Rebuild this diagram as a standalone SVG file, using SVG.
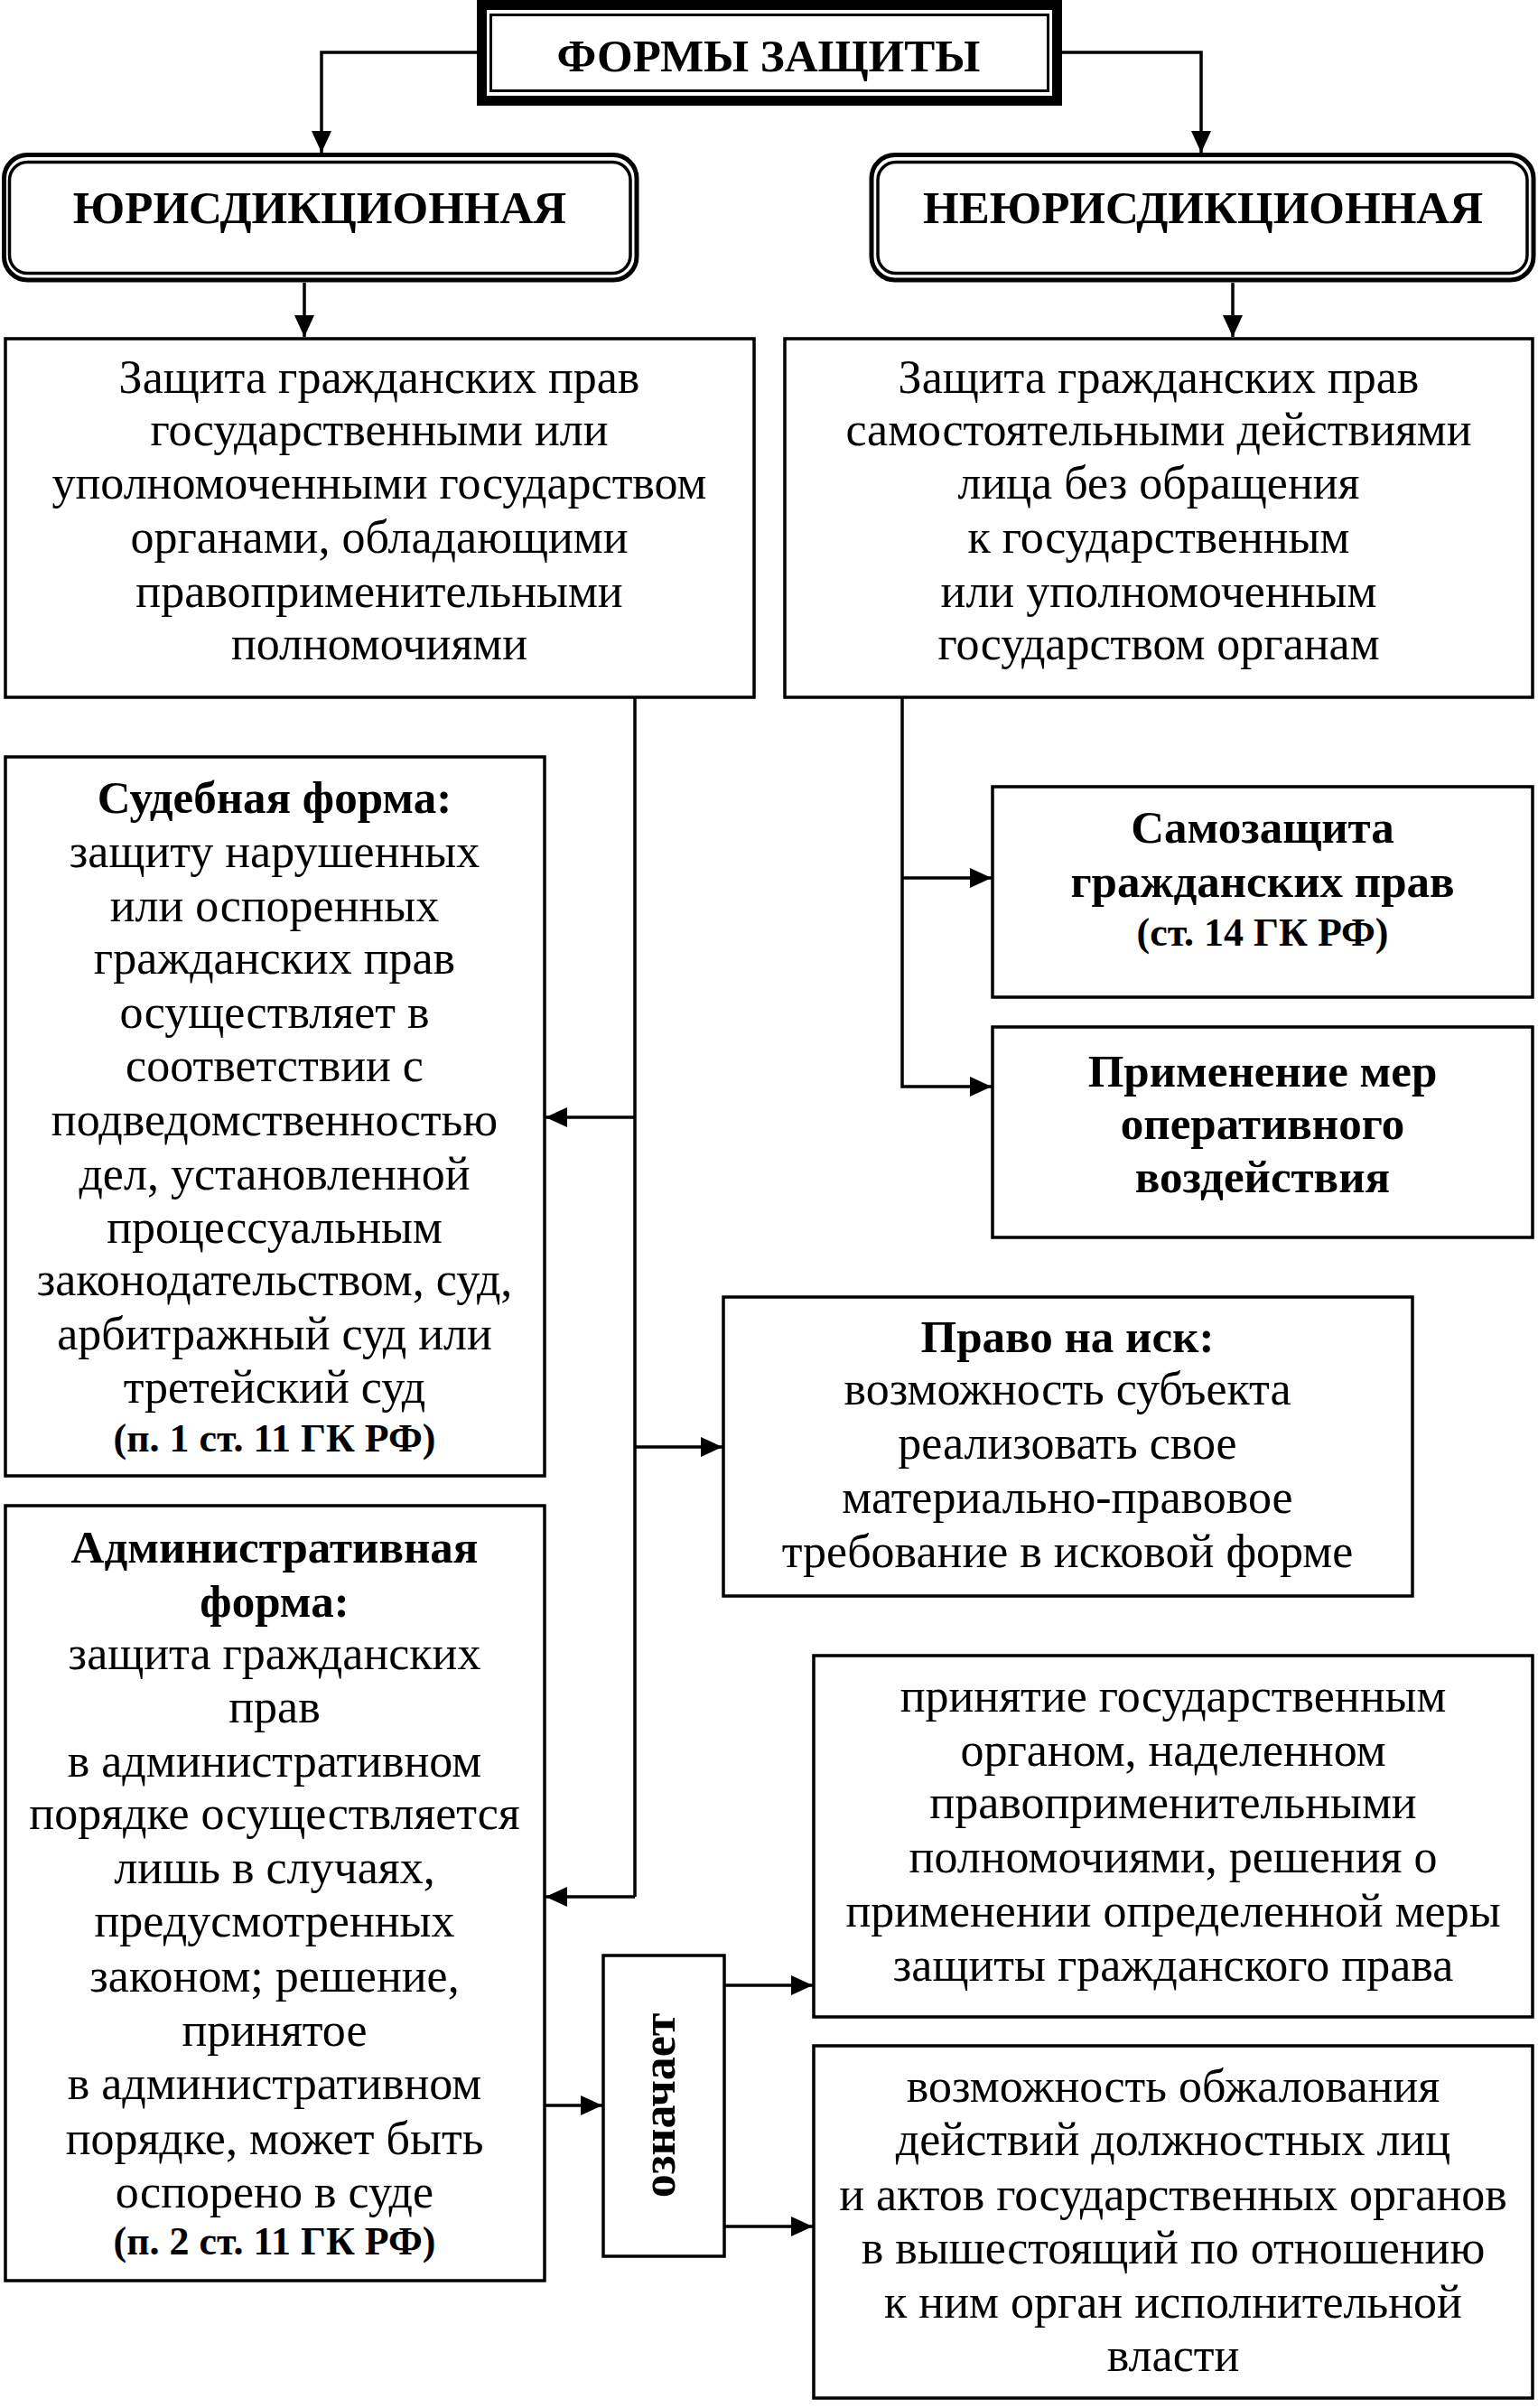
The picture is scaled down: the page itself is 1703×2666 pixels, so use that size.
<svg xmlns="http://www.w3.org/2000/svg" width="1703" height="2666" viewBox="0 0 1703 2666">
<defs>
<style>
.box{fill:#fff;stroke:#000;stroke-width:3.5}
.t{font-family:"Liberation Serif","Times New Roman",serif;font-size:52px;fill:#000;text-anchor:middle}
.b{font-weight:bold;font-size:51px}
.s{font-weight:bold;font-size:44px}
.h{font-weight:bold;font-size:51px}
.ln{fill:none;stroke:#000;stroke-width:3.5}
</style>
<marker id="ah" markerUnits="userSpaceOnUse" markerWidth="26" markerHeight="24" refX="24" refY="12" orient="auto">
<path d="M0,1 L24,12 L0,23 Z" fill="#000"/>
</marker>
</defs>
<rect width="1703" height="2666" fill="#fff"/>

<g id="connectors">
<path class="ln" d="M528,58 H356 V169" marker-end="url(#ah)"/>
<path class="ln" d="M1176,58 H1330 V169" marker-end="url(#ah)"/>
<path class="ln" d="M337,313 V373" marker-end="url(#ah)"/>
<path class="ln" d="M1365,313 V373" marker-end="url(#ah)"/>
<path class="ln" d="M703,773 V2100"/>
<path class="ln" d="M703,1237 H604" marker-end="url(#ah)"/>
<path class="ln" d="M703,1602 H800" marker-end="url(#ah)"/>
<path class="ln" d="M703,2100 H604" marker-end="url(#ah)"/>
<path class="ln" d="M999,773 V1203 H1098" marker-end="url(#ah)"/>
<path class="ln" d="M999,972 H1098" marker-end="url(#ah)"/>
<path class="ln" d="M603,2331 H667" marker-end="url(#ah)"/>
<path class="ln" d="M802,2198 H900" marker-end="url(#ah)"/>
<path class="ln" d="M802,2465 H900" marker-end="url(#ah)"/>
</g>

<g id="forms">
<rect x="533.5" y="5.5" width="637" height="106" fill="#fff" stroke="#000" stroke-width="11"/>
<rect x="543.5" y="16.5" width="617" height="84" fill="none" stroke="#000" stroke-width="3"/>
<text class="t h" x="851" y="79">ФОРМЫ ЗАЩИТЫ</text>
</g>

<g id="jur">
<rect x="4.5" y="171.5" width="700.5" height="138.5" rx="26" fill="#fff" stroke="#000" stroke-width="5"/>
<rect x="10.5" y="179.5" width="687.5" height="123" rx="20" fill="none" stroke="#000" stroke-width="3.5"/>
<text class="t h" x="354" y="247">ЮРИСДИКЦИОННАЯ</text>
</g>

<g id="nonjur">
<rect x="965" y="171.5" width="733" height="138.5" rx="26" fill="#fff" stroke="#000" stroke-width="5"/>
<rect x="972" y="179.5" width="719" height="123" rx="20" fill="none" stroke="#000" stroke-width="3.5"/>
<text class="t h" x="1332" y="247">НЕЮРИСДИКЦИОННАЯ</text>
</g>

<g id="jur-def">
<rect class="box" x="6" y="375" width="829" height="397"/>
<text class="t" x="420" y="435">Защита гражданских прав</text>
<text class="t" x="420" y="493">государственными или</text>
<text class="t" x="420" y="552">уполномоченными государством</text>
<text class="t" x="420" y="612">органами, обладающими</text>
<text class="t" x="420" y="672">правоприменительными</text>
<text class="t" x="420" y="730">полномочиями</text>
</g>

<g id="nonjur-def">
<rect class="box" x="869" y="375" width="828" height="397"/>
<text class="t" x="1283" y="435">Защита гражданских прав</text>
<text class="t" x="1283" y="493">самостоятельными действиями</text>
<text class="t" x="1283" y="552">лица без обращения</text>
<text class="t" x="1283" y="612">к государственным</text>
<text class="t" x="1283" y="672">или уполномоченным</text>
<text class="t" x="1283" y="730">государством органам</text>
</g>

<g id="court">
<rect class="box" x="6" y="838" width="597" height="796"/>
<text class="t b" x="304" y="900">Судебная форма:</text>
<text class="t" x="304" y="960">защиту нарушенных</text>
<text class="t" x="304" y="1020">или оспоренных</text>
<text class="t" x="304" y="1078">гражданских прав</text>
<text class="t" x="304" y="1138">осуществляет в</text>
<text class="t" x="304" y="1197">соответствии с</text>
<text class="t" x="304" y="1257">подведомственностью</text>
<text class="t" x="304" y="1317">дел, установленной</text>
<text class="t" x="304" y="1376">процессуальным</text>
<text class="t" x="304" y="1434">законодательством, суд,</text>
<text class="t" x="304" y="1494">арбитражный суд или</text>
<text class="t" x="304" y="1553">третейский суд</text>
<text class="t s" x="304" y="1607">(п. 1 ст. 11 ГК РФ)</text>
</g>

<g id="self">
<rect class="box" x="1099" y="871" width="598" height="233"/>
<text class="t b" x="1398" y="933">Самозащита</text>
<text class="t b" x="1398" y="993">гражданских прав</text>
<text class="t s" x="1398" y="1047">(ст. 14 ГК РФ)</text>
</g>

<g id="operative">
<rect class="box" x="1099" y="1137" width="598" height="233"/>
<text class="t b" x="1398" y="1203">Применение мер</text>
<text class="t b" x="1398" y="1261">оперативного</text>
<text class="t b" x="1398" y="1320">воздействия</text>
</g>

<g id="claim">
<rect class="box" x="801" y="1436" width="763" height="331"/>
<text class="t b" x="1182" y="1497">Право на иск:</text>
<text class="t" x="1182" y="1555">возможность субъекта</text>
<text class="t" x="1182" y="1615">реализовать свое</text>
<text class="t" x="1182" y="1675">материально-правовое</text>
<text class="t" x="1182" y="1735">требование в исковой форме</text>
</g>

<g id="admin">
<rect class="box" x="6" y="1667" width="597" height="858"/>
<text class="t b" x="304" y="1730">Административная</text>
<text class="t b" x="304" y="1790">форма:</text>
<text class="t" x="304" y="1848">защита гражданских</text>
<text class="t" x="304" y="1907">прав</text>
<text class="t" x="304" y="1967">в административном</text>
<text class="t" x="304" y="2025">порядке осуществляется</text>
<text class="t" x="304" y="2085">лишь в случаях,</text>
<text class="t" x="304" y="2144">предусмотренных</text>
<text class="t" x="304" y="2205">законом; решение,</text>
<text class="t" x="304" y="2265">принятое</text>
<text class="t" x="304" y="2324">в административном</text>
<text class="t" x="304" y="2385">порядке, может быть</text>
<text class="t" x="304" y="2444">оспорено в суде</text>
<text class="t s" x="304" y="2496">(п. 2 ст. 11 ГК РФ)</text>
</g>

<g id="means">
<rect class="box" x="668" y="2165" width="134" height="333"/>
<text class="t b" transform="translate(747,2331) rotate(-90)" x="0" y="0" style="font-size:52px">означает</text>
</g>

<g id="decision">
<rect class="box" x="901" y="1833" width="796" height="400"/>
<text class="t" x="1299" y="1895">принятие государственным</text>
<text class="t" x="1299" y="1955">органом, наделенном</text>
<text class="t" x="1299" y="2013">правоприменительными</text>
<text class="t" x="1299" y="2073">полномочиями, решения о</text>
<text class="t" x="1299" y="2133">применении определенной меры</text>
<text class="t" x="1299" y="2193">защиты гражданского права</text>
</g>

<g id="appeal">
<rect class="box" x="901" y="2265" width="796" height="390"/>
<text class="t" x="1299" y="2327">возможность обжалования</text>
<text class="t" x="1299" y="2386">действий должностных лиц</text>
<text class="t" x="1299" y="2447">и актов государственных органов</text>
<text class="t" x="1299" y="2506">в вышестоящий по отношению</text>
<text class="t" x="1299" y="2566">к ним орган исполнительной</text>
<text class="t" x="1299" y="2625">власти</text>
</g>
</svg>
